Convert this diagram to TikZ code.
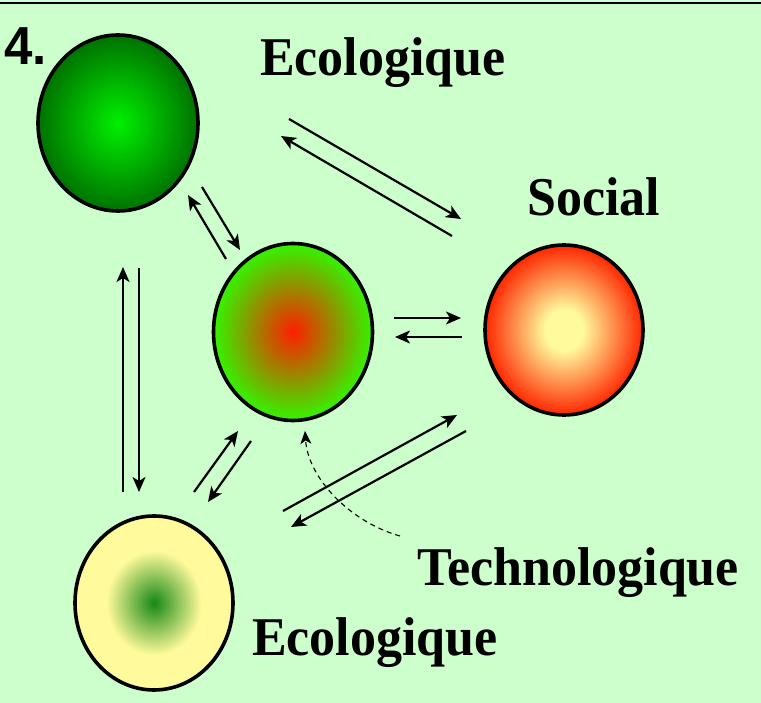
\documentclass[tikz,border=0pt]{standalone}
\usepackage{fontspec}
\setmainfont{Liberation Serif}
\newfontfamily\arialfont{Liberation Sans}
\usetikzlibrary{shapes.geometric,arrows.meta}
\definecolor{bgcol}{HTML}{CCFFCC}
\definecolor{brgreen}{HTML}{00F000}
\definecolor{dkgreen}{HTML}{007200}
\definecolor{midred}{HTML}{FF1E00}
\definecolor{limeg}{HTML}{33F500}
\definecolor{lyel}{HTML}{FFFA9C}
\definecolor{socred}{HTML}{FF2600}
\definecolor{botgreen}{HTML}{168816}
\pgfdeclareradialshading{shEcoA}{\pgfpoint{0bp}{0bp}}{color(0bp)=(brgreen); color(25bp)=(dkgreen); color(50bp)=(dkgreen)}
\pgfdeclareradialshading{shTech}{\pgfpoint{0bp}{0bp}}{color(0bp)=(midred); color(25bp)=(limeg); color(50bp)=(limeg)}
\pgfdeclareradialshading{shSoc}{\pgfpoint{0bp}{0bp}}{color(0bp)=(lyel); color(6bp)=(lyel); color(25bp)=(socred); color(50bp)=(socred)}
\pgfdeclareradialshading{shEcoB}{\pgfpoint{0bp}{0bp}}{color(0bp)=(botgreen); color(15bp)=(lyel); color(25bp)=(lyel); color(50bp)=(lyel)}
\tikzset{
  blob/.style={ellipse, draw=black, line width=3.6pt, inner sep=0pt, shade},
  lbl/.style={anchor=base west, inner sep=0pt, font=\fontsize{52}{60}\selectfont\bfseries},
  arr/.style={line width=2.2pt, -{Stealth[length=15pt,width=13pt,inset=4pt]}},
  dasharr/.style={line width=1.1pt, dash pattern=on 5pt off 4pt, -{Stealth[length=13pt,width=11pt,inset=3.5pt]}}
}
\newcommand{\tallbox}[1]{\scalebox{1}[1.05]{#1}}
\begin{document}
\begin{tikzpicture}[x=1pt,y=-1pt]
\useasboundingbox (0,0) rectangle (761,703);
\fill[bgcol] (0,0) rectangle (761,703);
\draw[line width=2pt] (0,3) -- (761,3);
% blobs
\node[blob, shading=shEcoA, minimum width=160pt, minimum height=176pt] (ecoA) at (118,123) {};
\node[blob, shading=shTech, minimum width=159pt, minimum height=177pt] (tech) at (293,332) {};
\node[blob, shading=shSoc, minimum width=158pt, minimum height=170pt] (soc) at (564,330) {};
\node[blob, shading=shEcoB, minimum width=158pt, minimum height=174pt] (ecoB) at (154,603) {};
% labels
\node[anchor=base west, inner sep=0pt, font=\arialfont\fontsize{51}{60}\selectfont\bfseries] (num) at (4,65) {\tallbox{4.}};
\node[lbl] (lEcoA) at (260,76) {\tallbox{Ecologique}};
\node[lbl] (lSoc) at (527,216) {\tallbox{Social}};
\node[lbl] (lTech) at (417,585) {\tallbox{Technologique}};
\node[lbl] (lEcoB) at (252,655) {\tallbox{Ecologique}};
% arrow end points
\coordinate (a1s) at (289,119); \coordinate (a1e) at (461,219);
\coordinate (a2s) at (452,236); \coordinate (a2e) at (281,136);
\coordinate (b1s) at (202,187); \coordinate (b1e) at (240,250);
\coordinate (b2s) at (226,259); \coordinate (b2e) at (188,195);
\coordinate (c1s) at (394,318); \coordinate (c1e) at (461,318);
\coordinate (c2s) at (462,337); \coordinate (c2e) at (395,337);
\coordinate (d1s) at (123,492); \coordinate (d1e) at (123,267);
\coordinate (d2s) at (139,268); \coordinate (d2e) at (139,492);
\coordinate (e1s) at (194,492); \coordinate (e1e) at (238,431);
\coordinate (e2s) at (251,441); \coordinate (e2e) at (208,502);
\coordinate (f1s) at (283,511); \coordinate (f1e) at (457,415);
\coordinate (f2s) at (466,431); \coordinate (f2e) at (291,527);
\coordinate (gs) at (400,536); \coordinate (ge) at (305,431);
\draw[arr] (a1s) -- (a1e);
\draw[arr] (a2s) -- (a2e);
\draw[arr] (b1s) -- (b1e);
\draw[arr] (b2s) -- (b2e);
\draw[arr] (c1s) -- (c1e);
\draw[arr] (c2s) -- (c2e);
\draw[arr] (d1s) -- (d1e);
\draw[arr] (d2s) -- (d2e);
\draw[arr] (e1s) -- (e1e);
\draw[arr] (e2s) -- (e2e);
\draw[arr] (f1s) -- (f1e);
\draw[arr] (f2s) -- (f2e);
\draw[dasharr] (gs) .. controls (350,522) and (308,478) .. (ge);
\end{tikzpicture}
\end{document}
